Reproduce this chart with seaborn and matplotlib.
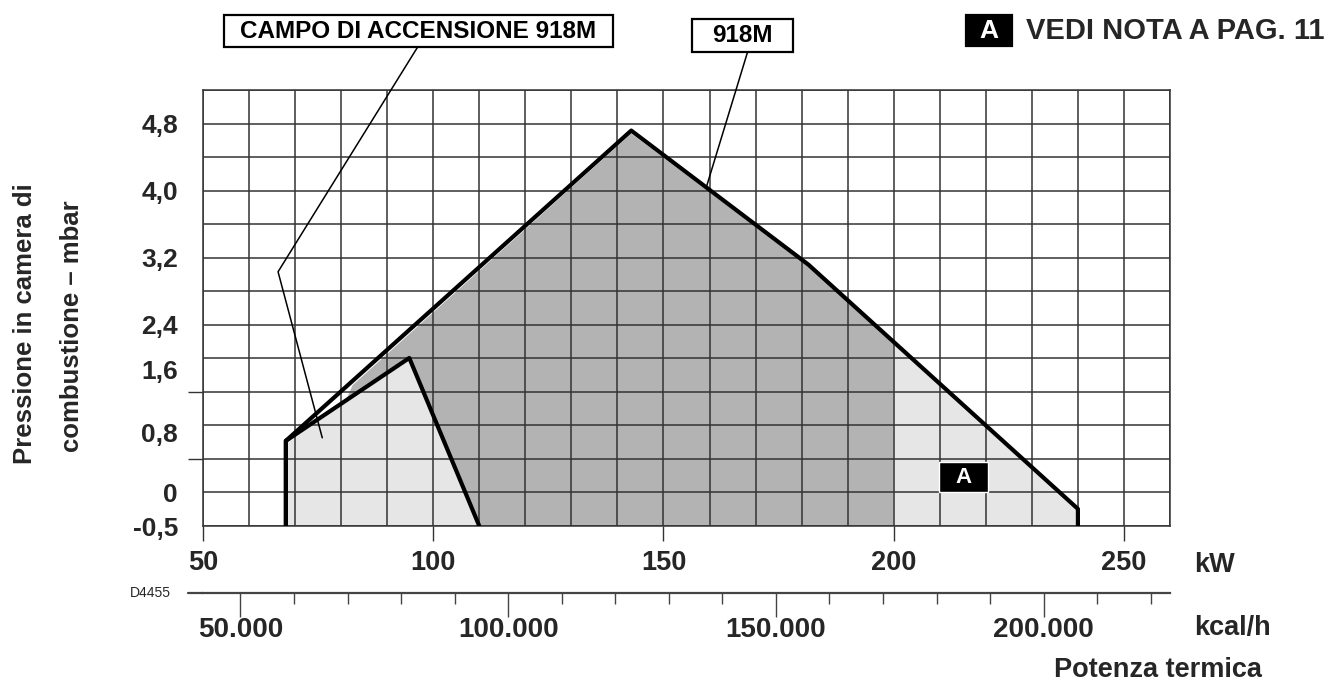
import matplotlib
matplotlib.use("Agg")
import matplotlib.pyplot as plt
import numpy as np
import seaborn as sns
from matplotlib.patches import Rectangle
from matplotlib.ticker import FixedLocator, FuncFormatter

# Vertical values are grid rows of the original diagram (bottom line = 0, top line = 13),
# because its pressure labels are not evenly spaced.
burner_kw = [68, 68, 143, 181.5, 240, 240]
burner_row = [0, 2.54, 11.79, 7.79, 0.51, 0]

ignition_kw = [68, 68, 94.8, 110]
ignition_row = [0, 2.54, 5.01, 0]

core_kw = [81, 82.5, 143, 181.5, 200, 200, 110, 94.8]
core_row = [3.74, 4.2, 11.7, 7.75, 5.45, 0, 0, 5.01]

tail_kw = [200, 200, 240, 240]
tail_row = [0, 5.45, 0.48, 0]

kw_ticks = [50, 100, 150, 200, 250]
pressure_rows = [12, 10, 8, 6, 4.66, 2.78, 0.99, 0]
pressure_labels = ["4,8", "4,0", "3,2", "2,4", "1,6", "0,8", "0", "-0,5"]
pressure_marks = [0, 2, 4, 6, 8, 10, 12]

kcal_major = [50000, 100000, 150000, 200000]
kcal_minor = [60000, 70000, 80000, 90000, 110000, 120000, 130000, 140000,
              160000, 170000, 180000, 190000, 210000, 220000]

campo_leader_kw = [96.7, 66.3, 75.9]
campo_leader_row = [14.3, 7.58, 2.63]
model_leader_kw = [168.3, 159.3]
model_leader_row = [14.15, 10.1]

KCAL_PER_KW = 860
W, H = 1334, 682
DARK = "#b3b3b3"
LIGHT = "#e6e6e6"
GRID = "#333333"


def fx(px):
    return px / W


def fy(py):
    return 1 - py / H


def boxed(fig, x0, y0, x1, y1, text, size, inverse=False):
    fig.add_artist(Rectangle((fx(x0), fy(y1)), fx(x1) - fx(x0), fy(y0) - fy(y1),
                             transform=fig.transFigure, facecolor="black" if inverse else "white",
                             edgecolor="black", linewidth=1.6))
    fig.text(fx((x0 + x1) / 2), fy((y0 + y1) / 2), text, ha="center", va="center",
             fontsize=size, color="white" if inverse else "black")


def main() -> None:
    sns.set_style("white")
    plt.rcParams["font.family"] = ["Liberation Sans", "DejaVu Sans"]
    plt.rcParams["font.weight"] = "bold"

    fig = plt.figure(figsize=(W / 100, H / 100), dpi=100)
    ax = fig.add_axes([fx(203), fy(526), fx(1170) - fx(203), fy(90) - fy(526)])

    ax.fill(core_kw, core_row, color=DARK, lw=0, zorder=1)
    ax.fill(ignition_kw, ignition_row, color=LIGHT, lw=0, zorder=1)
    ax.fill(tail_kw, tail_row, color=LIGHT, lw=0, zorder=1)

    ax.vlines(np.arange(50, 261, 10), 0, 13, color=GRID, lw=1.1, zorder=2)
    ax.hlines(np.arange(0, 14), 50, 260, color=GRID, lw=1.1, zorder=2)

    sns.lineplot(x=burner_kw, y=burner_row, sort=False, estimator=None,
                 color="black", lw=3, ax=ax, zorder=4)
    sns.lineplot(x=ignition_kw, y=ignition_row, sort=False, estimator=None,
                 color="black", lw=3, ax=ax, zorder=4)

    ax.plot(campo_leader_kw, campo_leader_row, color="black", lw=1.1, clip_on=False, zorder=5)
    ax.plot(model_leader_kw, model_leader_row, color="black", lw=1.1, clip_on=False, zorder=5)

    ax.add_patch(Rectangle((209.8, 1.01), 10.6, 0.9, facecolor="black", zorder=5))
    ax.text(215.1, 1.46, "A", color="white", fontsize=16, ha="center", va="center", zorder=6)

    ax.set_xlim(50, 260)
    ax.set_ylim(0, 13)
    ax.set_xlabel("")
    ax.set_ylabel("")
    for spine in ax.spines.values():
        spine.set_color(GRID)
        spine.set_linewidth(1.1)

    ax.set_xticks(kw_ticks)
    ax.set_xticklabels([str(v) for v in kw_ticks])
    ax.tick_params(axis="x", which="major", direction="out", length=11, width=1,
                   color=GRID, pad=6, labelsize=19.5, bottom=True)
    ax.set_yticks(pressure_rows)
    ax.set_yticklabels(pressure_labels)
    ax.yaxis.set_minor_locator(FixedLocator(pressure_marks))
    ax.tick_params(axis="y", which="major", length=0, pad=18, labelsize=19, left=True)
    ax.tick_params(axis="y", which="minor", direction="out", length=11, width=1,
                   color=GRID, left=True)

    sec = ax.secondary_xaxis(-0.154, functions=(lambda v: v * KCAL_PER_KW,
                                                lambda v: v / KCAL_PER_KW))
    sec.xaxis.set_major_locator(FixedLocator(kcal_major))
    sec.xaxis.set_minor_locator(FixedLocator(kcal_minor))
    sec.xaxis.set_major_formatter(FuncFormatter(lambda v, _: f"{int(v):,}".replace(",", ".")))
    sec.tick_params(which="major", direction="out", length=17, width=1, color="#444444",
                    pad=0, labelsize=20)
    sec.tick_params(which="minor", direction="out", length=8, width=1, color="#444444")
    sec.spines["bottom"].set_color("#444444")
    sec.spines["bottom"].set_linewidth(1.6)
    ax.plot([-15 / 967, 0], [-0.154, -0.154], transform=ax.transAxes, clip_on=False,
            color="#444444", lw=1.6)

    boxed(fig, 224, 15, 613, 47, "CAMPO DI ACCENSIONE 918M", 17.5)
    boxed(fig, 692, 19, 793, 52, "918M", 17.5)
    boxed(fig, 966, 15, 1012, 46, "A", 19, inverse=True)
    fig.text(fx(1026), fy(31), "VEDI NOTA A PAG. 11", ha="left", va="center", fontsize=21)

    fig.text(fx(25), fy(324), "Pressione in camera di", rotation=90,
             ha="center", va="center", fontsize=18.5)
    fig.text(fx(72), fy(326), "combustione \u2013 mbar", rotation=90,
             ha="center", va="center", fontsize=18.5)

    fig.text(fx(1194), fy(565), "kW", ha="left", va="center", fontsize=19.5)
    fig.text(fx(1194), fy(628), "kcal/h", ha="left", va="center", fontsize=19.5)
    fig.text(fx(1158), fy(670), "Potenza termica", ha="center", va="center", fontsize=19.5)
    fig.text(fx(150), fy(593), "D4455", ha="center", va="center", fontsize=10,
             fontweight="normal")

    fig.savefig("out.png", dpi=100)
    plt.close(fig)


if __name__ == "__main__":
    main()
